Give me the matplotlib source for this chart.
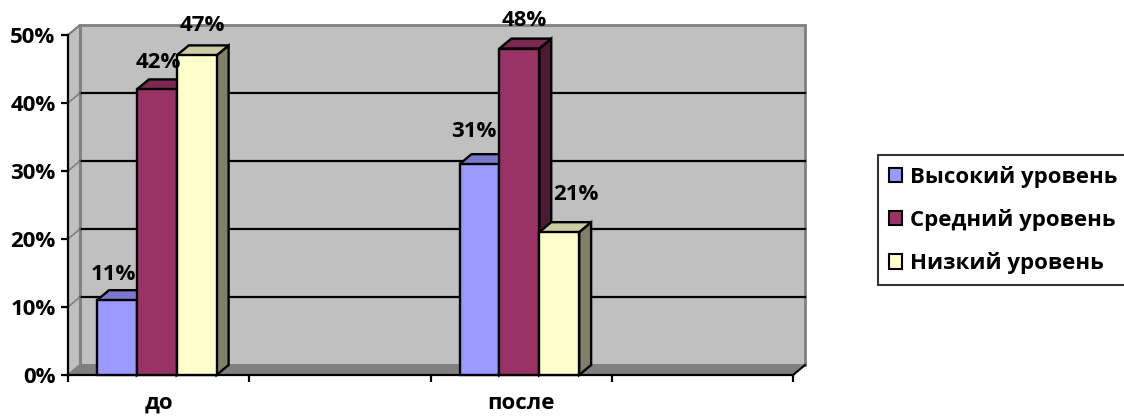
import matplotlib.pyplot as plt
from matplotlib.patches import Polygon, Patch
from matplotlib.colors import to_rgb
from matplotlib.ticker import PercentFormatter
import numpy as np

plt.rcParams['font.family'] = ['Open Sans', 'DejaVu Sans']
plt.rcParams['font.weight'] = 'bold'

# данные
categories = ['до', '', 'после', '']
series_names = ['Высокий уровень', 'Средний уровень', 'Низкий уровень']
high = [0.11, np.nan, 0.31, np.nan]
middle = [0.42, np.nan, 0.48, np.nan]
low = [0.47, np.nan, 0.21, np.nan]
series = [high, middle, low]
colors = ['#9999FF', '#993366', '#FFFFCC']

# подгонка подписей (в пикселях): (dx, dy) для каждого ряда и категории
label_nudge = {(0, 0): (-4, 0), (1, 0): (1, 1), (2, 0): (6, 4),
               (0, 2): (-6, 7), (1, 2): (5, 2), (2, 2): (17, 12)}

fs = 16

fig = plt.figure(figsize=(11.24, 4.17), dpi=100)
ax = fig.add_axes([68 / 1124, 42 / 417, 725 / 1124, 340 / 417])
ax.set_xlim(0, 4)
ax.set_ylim(0, 0.5)
ax.patch.set_visible(False)

# глубина 3D в единицах данных
dx = 12 / 181.25
dy = 10 / 680.0
top_y = 0.5


def poly(pts, fc, ec, z, lw=1.5):
	p = Polygon(pts, closed=True, facecolor=fc, edgecolor=ec, linewidth=lw,
				zorder=z, clip_on=False, joinstyle='miter')
	ax.add_patch(p)


# задняя стенка, боковая стенка, пол
poly([(dx, dy), (4 + dx, dy), (4 + dx, top_y + dy), (dx, top_y + dy)], '#C0C0C0', '#808080', 0.5, 2)
poly([(0, 0), (dx, dy), (dx, top_y + dy), (0, top_y)], '#C0C0C0', '#808080', 0.6, 1.5)
poly([(0, 0), (4, 0), (4 + dx, dy), (dx, dy)], '#808080', '#808080', 0.7, 1)
ax.plot([4, 4 + dx], [0, dy], color='black', lw=1.5, zorder=0.8, clip_on=False)

# линии сетки
for v in np.arange(0.1, 0.45, 0.1):
	ax.plot([dx, 4 + dx], [v + dy, v + dy], color='black', lw=1.6, zorder=1, clip_on=False)
for v in np.arange(0.1, 0.55, 0.1):
	ax.plot([0, dx], [v, v + dy], color='#808080', lw=1.2, zorder=1, clip_on=False)

# 3D столбцы
bar_w = 0.22
start = 0.16
z = 3
for ci in range(len(categories)):
	for si, vals in enumerate(series):
		h = vals[ci]
		if np.isnan(h):
			continue
		x0 = ci + start + si * bar_w
		c = np.array(to_rgb(colors[si]))
		poly([(x0 + bar_w, 0), (x0 + bar_w + dx, dy), (x0 + bar_w + dx, h + dy), (x0 + bar_w, h)],
			 c * 0.5, 'black', z, 1.7)
		poly([(x0, h), (x0 + bar_w, h), (x0 + bar_w + dx, h + dy), (x0 + dx, h + dy)],
			 c * 0.8, 'black', z + 0.1, 1.7)
		poly([(x0, 0), (x0 + bar_w, 0), (x0 + bar_w, h), (x0, h)], c, 'black', z + 0.2, 1.7)
		z += 1
		ndx, ndy = label_nudge.get((si, ci), (0, 0))
		ax.annotate('{:.0%}'.format(h), xy=(x0 + bar_w / 2, h + dy),
					xytext=(ndx * 0.72, (16 + ndy) * 0.72), textcoords='offset points',
					ha='center', va='center', fontsize=fs, fontweight='bold',
					zorder=20, annotation_clip=False)

# оси
for s in ['top', 'right']:
	ax.spines[s].set_visible(False)
for s in ['left', 'bottom']:
	ax.spines[s].set_linewidth(1.6)
	ax.spines[s].set_zorder(2)
ax.set_yticks(np.arange(0, 0.51, 0.1))
ax.yaxis.set_major_formatter(PercentFormatter(1.0, decimals=0))
ax.tick_params(axis='y', length=5, width=1.6, labelsize=fs, pad=4)
ax.set_xticks(range(5))
ax.set_xticklabels([])
ax.tick_params(axis='x', which='major', length=5, width=1.6)
ax.set_xticks(np.arange(0.5, 4, 1), minor=True)
ax.set_xticklabels(categories, minor=True)
ax.tick_params(axis='x', which='minor', length=0, labelsize=fs, pad=13)
for lab in ax.get_yticklabels() + ax.get_xticklabels(minor=True):
	lab.set_fontweight('bold')

# легенда
handles = [Patch(facecolor=c, edgecolor='black', linewidth=1.5) for c in colors]
leg = fig.legend(handles, series_names, loc='upper left',
				 bbox_to_anchor=(878 / 1124, 1 - 155 / 417), fontsize=fs,
				 frameon=True, fancybox=False, edgecolor='black',
				 handlelength=0.6, handleheight=0.6, handletextpad=0.35,
				 labelspacing=0.95, borderpad=0.5, borderaxespad=0)
leg.get_frame().set_linewidth(1.5)
for t in leg.get_texts():
	t.set_fontweight('bold')

plt.savefig('out.png', dpi=100)
